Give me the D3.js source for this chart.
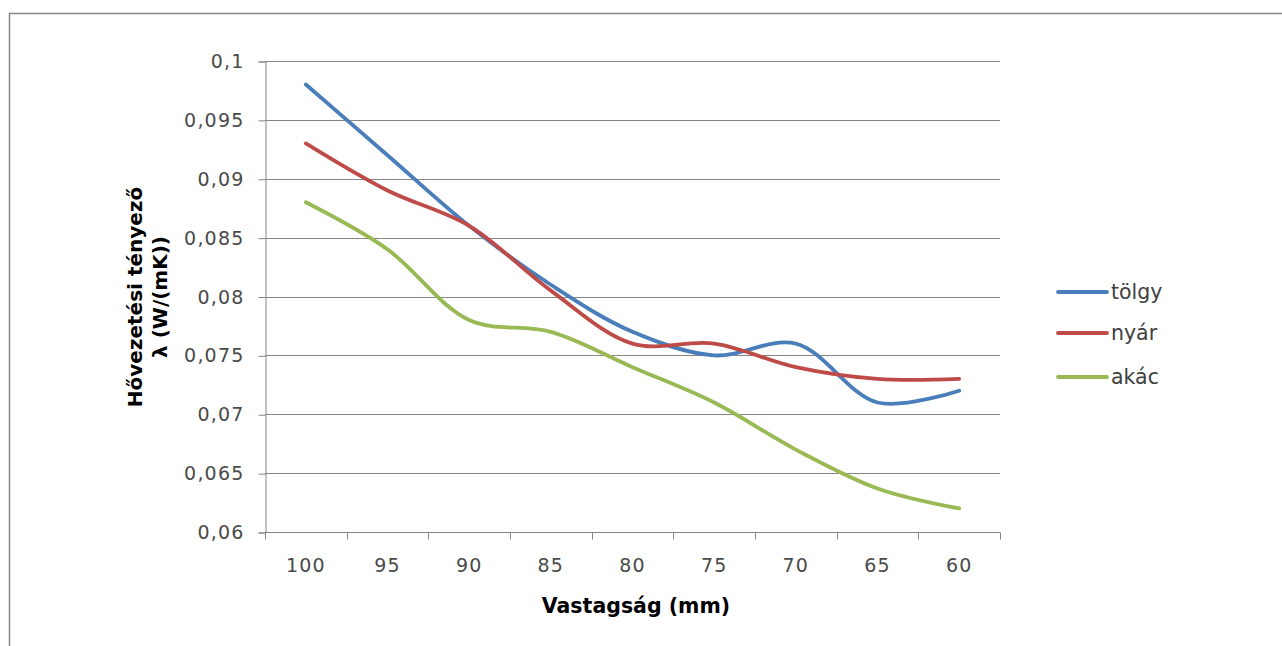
<!DOCTYPE html>
<html>
<head>
<meta charset="utf-8">
<script src="https://cdn.jsdelivr.net/npm/d3@7"></script>
<style>
  html, body { margin: 0; padding: 0; background: #fff; }
  svg { display: block; }
</style>
</head>
<body>
<svg id="chart" width="1282" height="646"></svg>
<script>
const categories = ["100", "95", "90", "85", "80", "75", "70", "65", "60"];
const tolgy = [0.098, 0.092, 0.086, 0.081, 0.077, 0.075, 0.076, 0.071, 0.072];
const nyar  = [0.093, 0.089, 0.086, 0.0805, 0.076, 0.076, 0.074, 0.073, 0.073];
const akac  = [0.088, 0.084, 0.078, 0.077, 0.074, 0.071, 0.067, 0.0637, 0.062];
const yTicks = [0.06, 0.065, 0.07, 0.075, 0.08, 0.085, 0.09, 0.095, 0.1];
const yTickLabels = ["0,06", "0,065", "0,07", "0,075", "0,08", "0,085", "0,09", "0,095", "0,1"];
const seriesNames = ["tölgy", "nyár", "akác"];
const seriesColors = ["#4A7EBB", "#BE4B48", "#98B954"];
const seriesValues = [tolgy, nyar, akac];

const svg = d3.select("#chart");
const font = "'DejaVu Sans', sans-serif";

// outer chart border
svg.append("path")
  .attr("d", "M9.5,700 L9.5,13.5 L1300,13.5")
  .attr("fill", "none").attr("stroke", "#868686").attr("stroke-width", 1.5);

const plot = { left: 265, right: 1000, top: 61, bottom: 532 };

const x = d3.scaleBand().domain(categories).range([plot.left, plot.right]).paddingInner(0).paddingOuter(0);
const y = d3.scaleLinear().domain([0.06, 0.1]).range([plot.bottom, plot.top]);

// gridlines
svg.append("g").selectAll("line").data(yTicks.filter(d => d > 0.06)).join("line")
  .attr("x1", plot.left).attr("x2", plot.right)
  .attr("y1", d => Math.round(y(d)) + 0.5).attr("y2", d => Math.round(y(d)) + 0.5)
  .attr("stroke", "#868686").attr("stroke-width", 1);

// y axis
const yAxis = d3.axisLeft(y).tickValues(yTicks)
  .tickFormat((d, i) => yTickLabels[i]).tickSize(7).tickPadding(14);
const gy = svg.append("g").attr("transform", `translate(${plot.left + 0.5},0.5)`).call(yAxis);
gy.select(".domain").attr("stroke", "#868686");
gy.selectAll(".tick line").attr("stroke", "#868686");
gy.selectAll(".tick text").attr("font-family", font).attr("font-size", 19)
  .attr("fill", "#4a4a4a").attr("letter-spacing", 1.2);

// x axis
const bandEdges = categories.map(c => x(c)).concat([plot.right]);
const gx = svg.append("g").attr("transform", `translate(0,${plot.bottom + 0.5})`);
gx.append("line").attr("x1", plot.left).attr("x2", plot.right).attr("y1", 0).attr("y2", 0)
  .attr("stroke", "#868686");
gx.selectAll("line.tk").data(bandEdges).join("line").attr("class", "tk")
  .attr("x1", d => Math.round(d) + 0.5).attr("x2", d => Math.round(d) + 0.5)
  .attr("y1", 0).attr("y2", 7).attr("stroke", "#868686");
gx.selectAll("text").data(categories).join("text")
  .attr("x", d => x(d) + x.bandwidth() / 2).attr("y", 39)
  .attr("text-anchor", "middle").attr("font-family", font).attr("font-size", 19)
  .attr("fill", "#4a4a4a").attr("letter-spacing", 1.2).text(d => d);

// axis titles
svg.append("text").attr("x", 636).attr("y", 613).attr("text-anchor", "middle")
  .attr("font-family", font).attr("font-size", 20.5).attr("font-weight", "bold")
  .attr("fill", "#000").text("Vastagság (mm)");
const yt = svg.append("text").attr("transform", "translate(0,297) rotate(-90)")
  .attr("text-anchor", "middle").attr("font-family", font).attr("font-size", 20)
  .attr("font-weight", "bold").attr("fill", "#000");
yt.append("tspan").attr("x", 0).attr("y", 142).text("Hővezetési tényező");
yt.append("tspan").attr("x", 0).attr("y", 167).text("λ (W/(mK))");

// lines
const line = d3.line()
  .x((d, i) => x(categories[i]) + x.bandwidth() / 2)
  .y(d => y(d))
  .curve(d3.curveCatmullRom.alpha(0.5));
svg.append("g").selectAll("path").data(seriesValues).join("path")
  .attr("d", d => line(d)).attr("fill", "none")
  .attr("stroke", (d, i) => seriesColors[i]).attr("stroke-width", 3.8)
  .attr("stroke-linecap", "round").attr("stroke-linejoin", "round");

// legend
const legendY = [292, 333, 377];
const lg = svg.append("g").selectAll("g").data(seriesNames).join("g")
  .attr("transform", (d, i) => `translate(1058,${legendY[i]})`);
lg.append("line").attr("x1", 0).attr("x2", 49).attr("y1", 0).attr("y2", 0)
  .attr("stroke", (d, i) => seriesColors[i]).attr("stroke-width", 3.8).attr("stroke-linecap", "round");
lg.append("text").attr("x", 53).attr("y", 7).attr("font-family", font).attr("font-size", 20.5)
  .attr("fill", "#404040").text(d => d);
</script>
</body>
</html>
